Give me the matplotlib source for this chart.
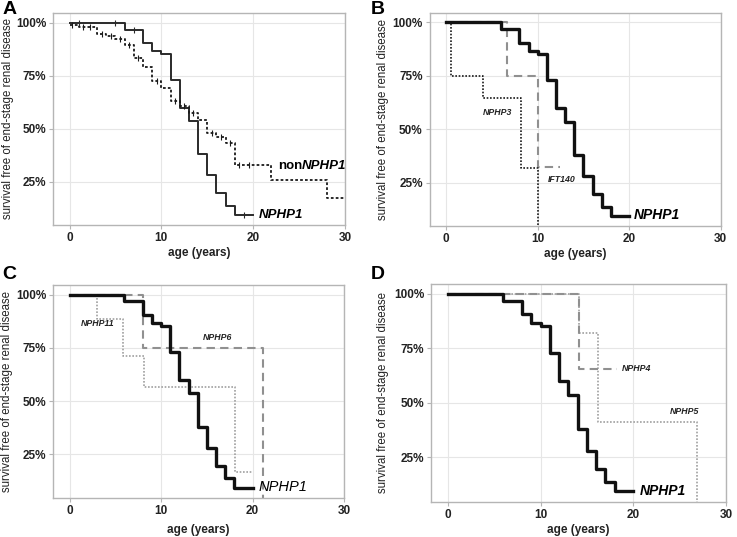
# %% Imports.
import numpy as np
from matplotlib import pyplot as plt

# %% Data, survival in %.
# NPHP1 (same curve in every panel):
t_nphp1 = [0, 6, 8, 9, 10, 11, 12, 13, 14, 15, 16, 17, 18, 20]
s_nphp1 = [100, 96.9, 90.6, 86.8, 85.2, 73, 60, 53.6, 37.9, 28, 19.5, 13.7, 9.3, 9.3]
c_nphp1 = [1, 5, 7, 19]

# nonNPHP1 (panel A):
t_non = [0, 1, 3, 4, 5, 6, 7, 8, 9, 10, 11, 12, 13, 14, 15, 16, 17, 18, 22, 28, 30]
s_non = [98.8, 98, 95, 94, 92.6, 89.7, 83.6, 79, 72.7, 69.2, 63, 61, 57.5, 54.2,
         48, 46, 43.3, 32.8, 25.8, 17.2, 17.2]
c_non = [0.3, 1.5, 2.2, 3.5, 4.5, 5.5, 6.5, 7.5, 9.5, 11.5, 12.5, 13.5, 15.5,
         16.5, 17.5, 18.5, 19.5]

# Panel B:
t_nphp3 = [0, 0.5, 4, 8.2, 10]
s_nphp3 = [100, 75, 64.5, 32, 0]
t_ift140 = [0, 6.6, 10, 12.4]
s_ift140 = [100, 75, 32.5, 32.5]

# Panel C:
t_nphp11 = [0, 3, 5.8, 8.1, 18.1, 19.9]
s_nphp11 = [100, 88.8, 71.2, 56.6, 16.9, 16.9]
t_nphp6 = [0, 8, 21.1]
s_nphp6 = [100, 75, 0]

# Panel D:
t_nphp4 = [0, 14.1, 18.2]
s_nphp4 = [100, 65.6, 65.6]
t_nphp5 = [0, 14.1, 16.2, 26.9]
s_nphp5 = [100, 82, 41, 0]

# Axis ticks:
x_ticks = [0, 10, 20, 30]
y_ticks = [25, 50, 75, 100]
y_tick_labels = ['25%', '50%', '75%', '100%']

# %% Figure.
plt.rcParams['font.family'] = ['Liberation Sans', 'DejaVu Sans']
fig = plt.figure(figsize=(7.37, 5.37), dpi=100)

# Axes positions [left, bottom, width, height] and label coords (ylabel x, ylabel y, xlabel y):
pos = {'A': [0.072, 0.581, 0.396, 0.394],
       'B': [0.583, 0.579, 0.395, 0.397],
       'C': [0.072, 0.073, 0.395, 0.396],
       'D': [0.585, 0.066, 0.400, 0.405]}
lab_xy = {'A': (-0.154, 0.505, -0.134), 'B': (-0.161, 0.5, -0.13),
          'C': (-0.158, 0.5, -0.152), 'D': (-0.163, 0.5, -0.131)}
axs = {}
for k, p in pos.items():
    ax = fig.add_axes(p)
    ax.set_xlim(-1.8, 30)
    ax.set_ylim(4.6, 104.5)
    ax.set_xticks(x_ticks)
    ax.set_yticks(y_ticks)
    ax.set_yticklabels(y_tick_labels)
    ax.grid(True, color='#e6e6e6', lw=0.8)
    ax.set_axisbelow(True)
    for sp in ax.spines.values():
        sp.set_color('#b5b5b5')
        sp.set_linewidth(1.0)
    ax.tick_params(length=3, color='#b5b5b5', labelsize=8.5, pad=2)
    for lab in ax.get_xticklabels() + ax.get_yticklabels():
        lab.set_fontweight('bold')
        lab.set_color('#222222')
    ax.set_xlabel('age (years)', fontsize=8.5, fontweight='bold', color='#222222')
    ax.set_ylabel('survival free of end-stage renal disease', fontsize=8.3,
                  color='#222222')
    ax.yaxis.set_label_coords(lab_xy[k][0], lab_xy[k][1])
    ax.xaxis.set_label_coords(0.5, lab_xy[k][2])
    ax.yaxis.label.set_va('center')
    ax.xaxis.label.set_va('center')
    axs[k] = ax

# Panel letters:
fig.text(0.003, 0.999, 'A', fontsize=14, fontweight='bold', va='top')
fig.text(0.503, 0.999, 'B', fontsize=14, fontweight='bold', va='top')
fig.text(0.003, 0.505, 'C', fontsize=14, fontweight='bold', va='top')
fig.text(0.503, 0.505, 'D', fontsize=14, fontweight='bold', va='top')


def censor_y(t, s, c):
    idx = np.searchsorted(t, c, side='right') - 1
    return np.array(s)[idx]


# %% Panel A.
ax = axs['A']
ax.step(t_nphp1, s_nphp1, where='post', color='#2a2a2a', lw=1.4)
ax.plot(c_nphp1, censor_y(t_nphp1, s_nphp1, c_nphp1), ls='none', marker='|',
        ms=4, mew=0.8, color='#2a2a2a')
ax.step(t_non, s_non, where='post', color='#1a1a1a', lw=1.3, ls=(0, (1.5, 1.2)))
ax.plot(c_non, censor_y(t_non, s_non, c_non), ls='none', marker='|',
        ms=4, mew=0.8, color='#1a1a1a')
ax.text(20.6, 9.3, 'NPHP1', fontsize=9.5, fontweight='bold', style='italic', va='center')
t_nn = ax.text(22.7, 32.5, 'non', fontsize=9.5, fontweight='bold', va='center')
ax.annotate('NPHP1', xy=(1, 0), xycoords=t_nn, va='bottom', ha='left',
            fontsize=9.5, fontweight='bold', style='italic')

# %% Panel B.
ax = axs['B']
ax.step(t_ift140, s_ift140, where='post', color='#909090', lw=1.5, ls=(0, (4, 2.5)))
ax.step(t_nphp3, s_nphp3, where='post', color='#1a1a1a', lw=1.2, ls=(0, (1, 1)))
ax.step(t_nphp1, s_nphp1, where='post', color='#111111', lw=2.4)
ax.text(5.6, 57.7, 'NPHP3', fontsize=6.3, fontweight='bold', style='italic',
        ha='center', va='center', color='#222222')
ax.text(12.6, 26.6, 'IFT140', fontsize=6.3, fontweight='bold', style='italic',
        ha='center', va='center', color='#222222')
ax.text(20.5, 10, 'NPHP1', fontsize=10, fontweight='bold', style='italic', va='center')

# %% Panel C.
ax = axs['C']
ax.step(t_nphp6, s_nphp6, where='post', color='#909090', lw=1.5, ls=(0, (4, 2.5)))
ax.step(t_nphp11, s_nphp11, where='post', color='#a0a0a0', lw=1.2, ls=(0, (1, 1)))
ax.step(t_nphp1, s_nphp1, where='post', color='#111111', lw=2.4)
ax.text(3.1, 86.7, 'NPHP11', fontsize=6.3, fontweight='bold', style='italic',
        ha='center', va='center', color='#222222')
ax.text(16.2, 80, 'NPHP6', fontsize=6.3, fontweight='bold', style='italic',
        ha='center', va='center', color='#222222')
ax.text(20.7, 9.5, 'NPHP1', fontsize=10.5, style='italic', va='center')

# %% Panel D.
ax = axs['D']
ax.step(t_nphp5, s_nphp5, where='post', color='#a0a0a0', lw=1.2, ls=(0, (1, 1)))
ax.step(t_nphp4, s_nphp4, where='post', color='#909090', lw=1.5, ls=(0, (4, 2.5)))
ax.step(t_nphp1, s_nphp1, where='post', color='#111111', lw=2.4)
ax.text(18.8, 65.6, 'NPHP4', fontsize=6.3, fontweight='bold', style='italic',
        va='center', color='#222222')
ax.text(25.5, 46, 'NPHP5', fontsize=6.3, fontweight='bold', style='italic',
        ha='center', va='center', color='#222222')
ax.text(20.7, 9.5, 'NPHP1', fontsize=10, fontweight='bold', style='italic', va='center')

# %% Save.
fig.savefig('out.png', dpi=100)
